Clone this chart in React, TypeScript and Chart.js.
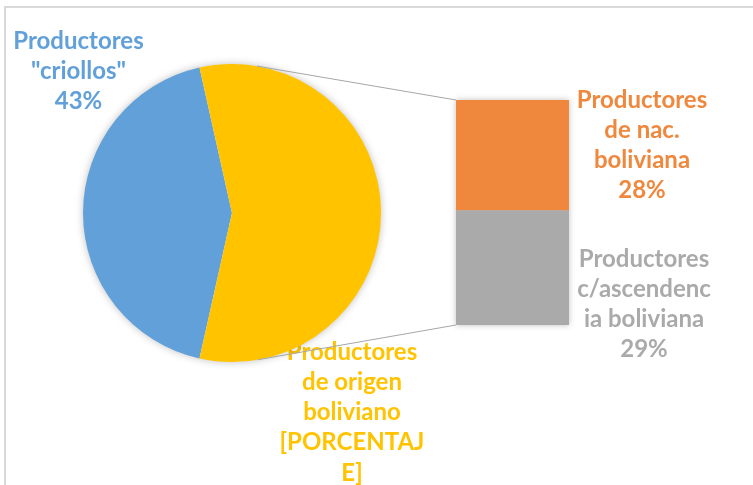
import React, { useEffect, useRef } from "react";
import { Chart, registerables } from "chart.js";

Chart.register(...registerables);

// ---- data ----
const pieCategories = ['Productores "criollos"', "Productores de origen boliviano"];
const pieValues = [43, 57];
const pieColors = ["#62A0D9", "#FFC300"];

const barCategories = ["Productores c/ascendencia boliviana", "Productores de nac. boliviana"];
const barValues = [29, 28];
const barColors = ["#AAAAAA", "#EF883D"];

const criollosLabel = ["Productores", '"criollos"', `${pieValues[0]}%`];
const origenLabel = ["Productores", "de origen", "boliviano", "[PORCENTAJ", "E]"];
const nacLabel = ["Productores", "de nac.", "boliviana", `${barValues[1]}%`];
const ascLabel = ["Productores", "c/ascendenc", "ia boliviana", `${barValues[0]}%`];

const W = 753;
const H = 485;
const FONT = "bold 24px Lato, 'Open Sans', sans-serif";

const drawLines = (ctx: CanvasRenderingContext2D, lines: string[], cx: number, y0: number, color: string) => {
  ctx.save();
  ctx.font = FONT;
  ctx.fillStyle = color;
  ctx.textAlign = "center";
  ctx.textBaseline = "middle";
  lines.forEach((l, i) => ctx.fillText(l, cx, y0 + i * 30.2));
  ctx.restore();
};

export default function App() {
  const pieRef = useRef<HTMLCanvasElement>(null);
  const barRef = useRef<HTMLCanvasElement>(null);

  useEffect(() => {
    const total = pieValues.reduce((a, b) => a + b, 0);
    const rotation = 270 - ((pieValues[0] / total) * 360) / 2;

    const pieShadow = {
      id: "pieShadow",
      beforeDatasetsDraw(chart: any) {
        const arc = chart.getDatasetMeta(0).data[0];
        if (!arc) return;
        const ctx = chart.ctx;
        drawLines(ctx, origenLabel, 352, 352, "#FFC300");
        ctx.save();
        ctx.shadowColor = "rgba(0,0,0,0.28)";
        ctx.shadowBlur = 8;
        ctx.fillStyle = "#ffffff";
        ctx.beginPath();
        ctx.arc(arc.x, arc.y, arc.outerRadius - 0.5, 0, Math.PI * 2);
        ctx.fill();
        ctx.restore();
      },
    };

    const pie = new Chart(pieRef.current!, {
      type: "pie",
      data: {
        labels: pieCategories,
        datasets: [
          {
            data: pieValues,
            backgroundColor: pieColors,
            borderWidth: 0,
            hoverOffset: 0,
            offset: 0,
          },
        ],
      },
      options: {
        responsive: false,
        animation: false,
        events: [],
        rotation,
        layout: { padding: { left: 83, right: W - 381, top: 64, bottom: H - 362 } },
        plugins: { legend: { display: false }, tooltip: { enabled: false } },
      },
      plugins: [pieShadow],
    });

    const overlay = {
      id: "overlay",
      beforeDatasetsDraw(chart: any) {
        const ctx = chart.ctx;
        ctx.save();
        ctx.shadowColor = "rgba(0,0,0,0.25)";
        ctx.shadowBlur = 6;
        ctx.fillStyle = "#ffffff";
        const m0 = chart.getDatasetMeta(0).data[0];
        const m1 = chart.getDatasetMeta(1).data[0];
        const left = m0.x - m0.width / 2;
        ctx.fillRect(left, m1.y, m0.width, m0.base - m1.y);
        ctx.restore();
      },
      afterDatasetsDraw(chart: any) {
        const ctx = chart.ctx;
        const arc = pie.getDatasetMeta(0).data[1] as any;
        const m0 = chart.getDatasetMeta(0).data[0];
        const m1 = chart.getDatasetMeta(1).data[0];
        const left = m0.x - m0.width / 2;
        const cx = arc.x, cy = arc.y, r = arc.outerRadius;
        const tangent = (px: number, py: number, upper: boolean) => {
          const dx = px - cx, dy = py - cy;
          const d = Math.hypot(dx, dy);
          const phi = Math.atan2(dy, dx);
          const a = Math.acos(r / d);
          const t = upper ? phi - a : phi + a;
          return [cx + r * Math.cos(t), cy + r * Math.sin(t)];
        };
        ctx.save();
        ctx.strokeStyle = "#A6A6A6";
        ctx.lineWidth = 1;
        const top = tangent(left, m1.y, true);
        const bot = tangent(left, m0.base, false);
        ctx.beginPath();
        ctx.moveTo(top[0], top[1]);
        ctx.lineTo(left, m1.y);
        ctx.moveTo(bot[0], bot[1]);
        ctx.lineTo(left, m0.base);
        ctx.stroke();
        ctx.restore();

        drawLines(ctx, criollosLabel, 78.5, 41, "#62A0D9");
        drawLines(ctx, nacLabel, 642, 100, "#EF883D");
        drawLines(ctx, ascLabel, 644, 259, "#AAAAAA");
      },
    };

    const bar = new Chart(barRef.current!, {
      type: "bar",
      data: {
        labels: [""],
        datasets: [
          { label: barCategories[0], data: [barValues[0]], backgroundColor: barColors[0], borderWidth: 0 },
          { label: barCategories[1], data: [barValues[1]], backgroundColor: barColors[1], borderWidth: 0 },
        ],
      },
      options: {
        responsive: false,
        animation: false,
        events: [],
        barPercentage: 1,
        categoryPercentage: 1,
        layout: { padding: { left: 456, right: W - 569, top: 100, bottom: H - 325 } },
        scales: {
          x: { stacked: true, display: false },
          y: { stacked: true, display: false, min: 0, max: barValues[0] + barValues[1] },
        },
        plugins: { legend: { display: false }, tooltip: { enabled: false } },
      } as any,
      plugins: [overlay],
    });

    return () => {
      bar.destroy();
      pie.destroy();
    };
  }, []);

  return (
    <div style={{ position: "fixed", left: 0, top: 0, width: W, height: H, background: "#fff", overflow: "hidden" }}>
      <div
        style={{
          position: "absolute",
          left: 4,
          top: 6,
          width: W + 20,
          height: H + 20,
          borderTop: "2px solid #D9D9D9",
          borderLeft: "2px solid #D9D9D9",
        }}
      />
      <canvas ref={pieRef} width={W} height={H} style={{ position: "absolute", left: 0, top: 0 }} />
      <canvas ref={barRef} width={W} height={H} style={{ position: "absolute", left: 0, top: 0 }} />
    </div>
  );
}
